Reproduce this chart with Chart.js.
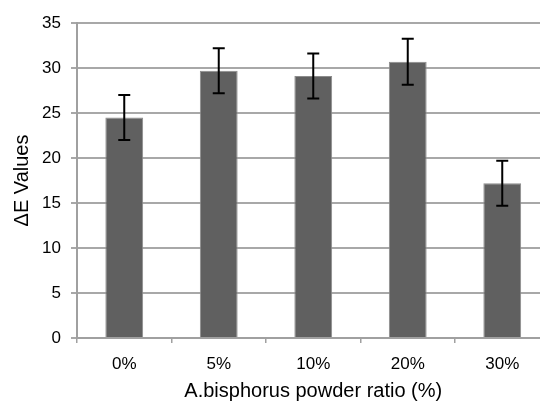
<!DOCTYPE html>
<html>
<head>
<meta charset="utf-8">
<script src="https://cdn.jsdelivr.net/npm/chart.js@4/dist/chart.umd.min.js"></script>
<style>
  html, body { margin: 0; padding: 0; overflow: hidden; background: #fff; }
</style>
</head>
<body>
<canvas id="chart" width="552" height="401"></canvas>
<script>
const categories = ['0%', '5%', '10%', '20%', '30%'];
const values = [24.5, 29.7, 29.1, 30.7, 17.2];
const errors = [2.5, 2.5, 2.5, 2.55, 2.5];

const canvas = document.querySelector('canvas');
var ctx = canvas.getContext('2d');

Chart.defaults.font.family = '"Liberation Sans", Arial, sans-serif';
Chart.defaults.color = '#000';

// error bars drawn on top of the bars
const errorBars = {
    id: 'errorBars',
    afterDatasetsDraw(chart) {
        const c = chart.ctx;
        const x = chart.scales.x;
        const y = chart.scales.y;
        c.save();
        c.strokeStyle = '#000';
        c.lineWidth = 2;
        values.forEach((v, i) => {
            const px = x.getPixelForValue(i);
            const top = y.getPixelForValue(v + errors[i]);
            const bot = y.getPixelForValue(v - errors[i]);
            c.beginPath();
            c.moveTo(px, top); c.lineTo(px, bot);
            c.moveTo(px - 6, top); c.lineTo(px + 6, top);
            c.moveTo(px - 6, bot); c.lineTo(px + 6, bot);
            c.stroke();
        });
        c.restore();
    }
};

const data = {
    labels: categories,
    datasets: [{
        data: values,
        backgroundColor: '#606060',
        borderColor: '#8c8c8c',
        borderWidth: 1,
        barPercentage: 0.4,
        categoryPercentage: 1.0
    }]
};

const options = {
    responsive: false,
    animation: false,
    layout: { padding: { left: 0, right: 2.5, top: 23, bottom: 0 } },
    plugins: { legend: { display: false }, tooltip: { enabled: false } },
    scales: {
        x: {
            afterFit(scale) { scale.height = 63; },
            grid: {
                drawOnChartArea: false,
                color: '#a0a0a0',
                lineWidth: 1.5,
                tickLength: 5
            },
            border: { color: '#a0a0a0', width: 2 },
            ticks: { padding: 11, font: { size: 17 } },
            title: {
                display: true,
                text: 'A.bisphorus powder ratio (%)',
                font: { size: 20, lineHeight: 1.0 },
                padding: { top: 6.6, bottom: 0 }
            }
        },
        y: {
            min: 0,
            max: 35,
            afterFit(scale) { scale.width = 77; },
            grid: {
                color: '#a8a8a8',
                lineWidth: 2,
                tickLength: 6
            },
            border: { color: '#a0a0a0', width: 2 },
            ticks: { stepSize: 5, padding: 10, font: { size: 17 } },
            title: {
                display: true,
                text: 'ΔE Values',
                font: { size: 20 },
                padding: { top: 10, bottom: 8 }
            }
        }
    }
};

const chart = new Chart(ctx, {
    type: 'bar',
    data: data,
    options: options,
    plugins: [errorBars]
});
</script>
</body>
</html>
